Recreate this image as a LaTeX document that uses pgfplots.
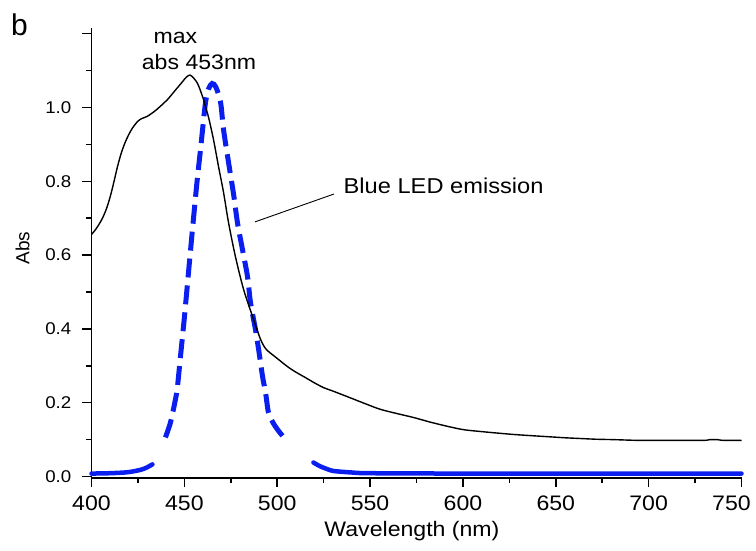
\documentclass[border=0pt]{standalone}
\usepackage{fontspec}
\setmainfont{Liberation Sans}
\newfontfamily\wide{Liberation Sans}[FakeStretch=1.1]
\usepackage{pgfplots}
\pgfplotsset{compat=1.18}
\definecolor{ledblue}{RGB}{10,30,240}
\begin{document}
\begin{tikzpicture}
\useasboundingbox (0,0) rectangle (756pt,550pt);
\begin{axis}[
  at={(91.5pt,72pt)}, anchor=south west,
  scale only axis, width=650pt, height=450pt,
  xmin=400, xmax=750, ymin=-0.004, ymax=1.2155,
  axis x line*=bottom, axis y line*=left,
  axis line style={-, line width=1.8pt, black},
  tick align=outside,
  major tick length=9pt, minor tick length=5pt,
  every tick/.style={line width=1.5pt, black},
  xtick={400,450,500,550,600,650,700,750},
  xticklabels={400,450,500,550,600,650,700,\hspace*{-20pt}750},
  minor x tick num=1,
  ytick={0,0.2,0.4,0.6,0.8,1.0,1.2},
  yticklabels={0.0,0.2,0.4,0.6,0.8,1.0,{}},
  minor y tick num=1,
  xticklabel style={font=\wide\fontsize{21}{21}\selectfont, inner sep=0pt, yshift=-9pt},
  yticklabel style={font=\wide\fontsize{17}{17}\selectfont, inner sep=0pt, xshift=-11pt},
  xlabel={Wavelength (nm)},
  xlabel style={font=\wide\fontsize{21}{21}\selectfont, at={(axis description cs:0.493,-0.1289)}, anchor=base, inner sep=0pt},
  ylabel={Abs},
  ylabel style={font=\fontsize{19}{19}\selectfont, at={(axis description cs:-0.1062,0.511)}, anchor=center, inner sep=0pt},
  clip=false,
]
% Blue LED emission: left base (solid)
\addplot[ledblue, line width=4.5pt, line cap=round, smooth] coordinates {
(400,0.008) (410,0.009) (418,0.011) (422.6,0.014) (427,0.019) (430,0.025) (432.8,0.033)
};
% Blue LED emission: middle (dashed)
\addplot[ledblue, line width=5pt, dash pattern=on 19pt off 8pt, smooth] coordinates {
(439.8,0.106) (442.5,0.146) (445.2,0.209) (446.3,0.244) (448,0.33) (450,0.43) (452,0.54)
(454,0.65) (455.5,0.73) (457.1,0.813) (458.7,0.886) (459.8,0.940) (461.4,1.014) (463,1.05)
(465,1.065) (467,1.055) (469.5,1.014) (471.1,0.940) (473.8,0.851) (476.5,0.765) (478.6,0.688)
(481.3,0.615) (484,0.542) (485.6,0.472) (488.3,0.398) (490,0.344) (492.1,0.271) (493.7,0.228)
(495.3,0.173) (497.5,0.148) (500.2,0.127) (504.5,0.100)
};
% Blue LED emission: right base (solid)
\addplot[ledblue, line width=4.5pt, line cap=round, smooth] coordinates {
(519.5,0.038) (523,0.028) (527,0.020) (530.3,0.015) (540,0.011) (550,0.009) (600,0.008)
(650,0.008) (700,0.008) (750,0.008)
};
% Absorbance
\addplot[black, line width=1.4pt, smooth] coordinates {
(400,0.656) (402,0.668) (404,0.683) (406,0.701) (408,0.725) (410,0.757) (412,0.797) (414,0.840)
(416,0.876) (418,0.904) (420,0.926) (422,0.944) (424.8,0.962) (427,0.970) (430,0.976) (434,0.990)
(437,1.003) (441,1.022) (444,1.040) (447,1.058) (449,1.070) (451,1.082) (453,1.088) (455,1.080)
(457,1.066) (458.5,1.048) (460.3,1.022) (461.5,1.000) (463,0.974) (465.7,0.913) (468.4,0.840)
(471.1,0.770) (473.8,0.688) (477.5,0.596) (481.9,0.507) (486.7,0.434) (489,0.400) (491,0.372)
(493,0.352) (495,0.340) (497.5,0.330) (500,0.320)
(505.5,0.298) (510,0.283) (514.2,0.271) (520,0.254) (524.9,0.241) (530.3,0.231) (540,0.212)
(548.6,0.195) (555.6,0.182) (565,0.170) (573.4,0.160) (582,0.148) (591.7,0.136) (600.3,0.127)
(609.5,0.122) (618,0.118) (627.2,0.114) (636,0.111) (645.6,0.108) (655,0.105) (663.3,0.103)
(672,0.101) (681.1,0.100) (694,0.098) (705,0.098) (717.2,0.098) (730,0.098) (733,0.100)
(737,0.100) (740,0.098) (750,0.098)
};
% annotations
\draw[black, line width=0.9pt] (axis cs:488.0,0.690) -- (axis cs:530.6,0.7657);
\node[font=\wide\fontsize{21.5}{21.5}\selectfont, anchor=base west, inner sep=0pt] at (axis cs:535.7,0.768) {Blue LED emission};
\node[font=\wide\fontsize{21}{21}\selectfont, anchor=base, inner sep=0pt] at (axis cs:445.2,1.174) {max};
\node[font=\wide\fontsize{21}{21}\selectfont, anchor=base, inner sep=0pt] at (axis cs:457.9,1.1017) {abs 453nm};
\node[font=\fontsize{30}{30}\selectfont, anchor=base west, inner sep=0pt] at (axis description cs:-0.124,0.9844) {b};
\end{axis}
\end{tikzpicture}
\end{document}
